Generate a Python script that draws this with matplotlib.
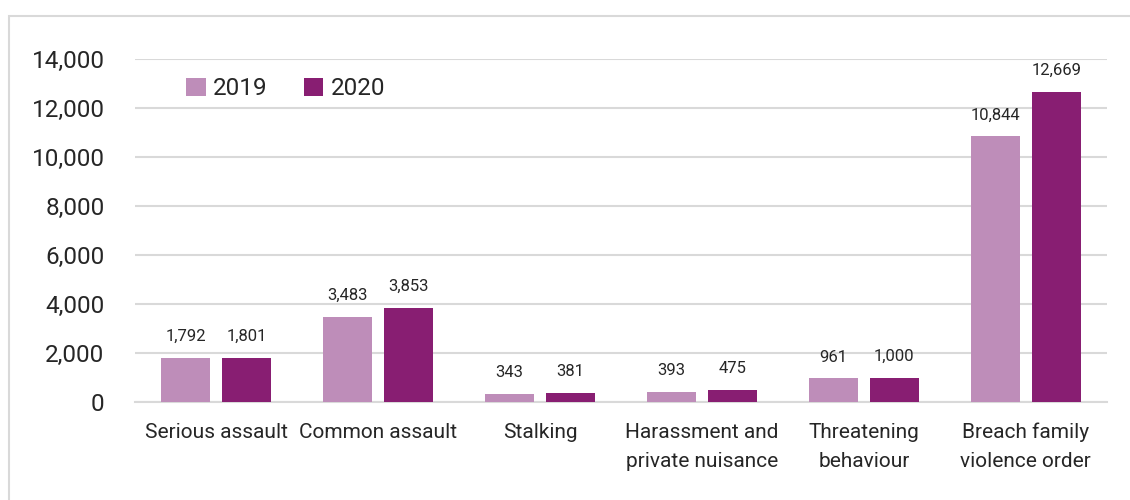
import numpy as np
import matplotlib.pyplot as plt
from matplotlib.patches import Rectangle

# Offence counts by year
categories = ['Serious assault', 'Common assault', 'Stalking',
              'Harassment and\nprivate nuisance', 'Threatening\nbehaviour',
              'Breach family\nviolence order']
values_2019 = [1792, 3483, 343, 393, 961, 10844]
values_2020 = [1801, 3853, 381, 475, 1000, 12669]
years = ['2019', '2020']

colors = ['#BE8DB9', '#881E72']
text_color = '#262626'
grid_color = '#D9D9D9'

plt.rcParams['font.family'] = ['Roboto', 'DejaVu Sans']

fig = plt.figure(figsize=(11.3, 5), dpi=100)
ax = fig.add_axes([0.1195, 0.196, 0.860, 0.686])

# light frame around the whole chart
fig.patches.append(Rectangle((9 / 1130, -0.2), 1.2, 1.2 - 16 / 500,
                             transform=fig.transFigure, fill=False,
                             edgecolor='#D9D9D9', linewidth=1.5))

x = np.arange(len(categories))
width = 0.30
offset = 0.188

bars1 = ax.bar(x - offset, values_2019, width, color=colors[0], label=years[0], zorder=3)
bars2 = ax.bar(x + offset, values_2020, width, color=colors[1], label=years[1], zorder=3)

for bars, vals in [(bars1, values_2019), (bars2, values_2020)]:
    for b, v in zip(bars, vals):
        ax.annotate(f'{v:,}', (b.get_x() + b.get_width() / 2, v),
                    xytext=(0, 10), textcoords='offset points',
                    ha='center', va='bottom', fontsize=12, color=text_color)

ax.set_xlim(-0.5, len(categories) - 0.5)
ax.set_ylim(0, 14000)
ax.set_yticks(np.arange(0, 14001, 2000))
ax.yaxis.set_major_formatter(plt.FuncFormatter(lambda v, p: f'{int(v):,}'))
ax.set_xticks(x)
ax.set_xticklabels(categories, fontsize=15, color=text_color, linespacing=1.65)
ax.tick_params(axis='y', labelsize=17.5, labelcolor=text_color, length=0, pad=22)
ax.tick_params(axis='x', length=0, pad=15)

ax.grid(axis='y', color=grid_color, linewidth=1.5, zorder=0)
ax.set_axisbelow(True)
for s in ['top', 'right', 'left']:
    ax.spines[s].set_visible(False)
ax.spines['bottom'].set_color(grid_color)
ax.spines['bottom'].set_linewidth(1.5)

ax.legend(loc='upper left', bbox_to_anchor=(0.03, 1.01), ncol=2, frameon=False,
          fontsize=17.5, handlelength=0.8, handleheight=0.8, handletextpad=0.3,
          columnspacing=1.5, labelcolor=text_color)

fig.savefig('out.png', dpi=100)
